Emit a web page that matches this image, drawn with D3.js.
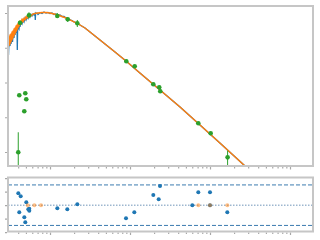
<!DOCTYPE html>
<html>
<head>
<meta charset="utf-8">
<script src="https://cdn.jsdelivr.net/npm/d3@7"></script>
<style>
  body { margin: 0; background: #fff; }
  svg { display: block; }
</style>
</head>
<body>
<script>
// spectrum (blue), wavelength in micron, flux
var specWave = [0.2985, 0.3028, 0.3073, 0.3162, 0.3208, 0.3255, 0.3350, 0.3399, 0.3448, 0.3548,
  0.3600, 0.3652, 0.3758, 0.3813, 0.3868, 0.3902, 0.3936, 0.3981, 0.4097, 0.4157,
  0.4217, 0.4340, 0.4467, 0.4597, 0.4732, 0.4870, 0.5012, 0.5158, 0.5309, 0.5464,
  0.5623, 0.5788, 0.5957, 0.6131, 0.6310, 0.6494, 0.6549, 0.6607, 0.6879, 0.7079,
  0.7499, 0.7943, 0.8414, 0.8913, 0.9441, 1.0, 1.059, 1.122, 1.189, 1.259,
  1.334, 1.413, 1.496, 1.585, 1.679, 1.778, 1.884, 1.995, 2.175, 2.371,
  2.738, 3.162, 3.652, 4.870, 6.494, 8.913, 13.3, 23.7, 42.2, 75.0,
  133, 274, 500, 1000, 2000];
var specFlux = [0.128, 0.0618, 0.167, 0.112, 0.191, 0.128, 0.218, 0.146, 0.249, 0.191,
  0.303, 0.233, 0.324, 0.266, 0.370, 0.0861, 0.324, 0.396, 0.346, 0.483,
  0.396, 0.551, 0.483, 0.629, 0.551, 0.718, 0.629, 0.767, 0.695, 0.847,
  0.767, 0.905, 0.820, 0.936, 0.876, 0.967, 0.629, 0.967, 1.0, 0.905,
  1.034, 0.967, 1.068, 1.0, 1.034, 0.967, 1.0, 0.905, 0.936, 0.847,
  0.876, 0.793, 0.793, 0.718, 0.695, 0.629, 0.608, 0.551, 0.516, 0.452,
  0.370, 0.284, 0.218, 0.128, 0.0755, 0.0416, 0.0188, 0.00608, 0.00197, 5.98e-4,
  1.82e-4, 3.95e-5, 1.3e-5, 3.3e-6, 8.3e-7];

// model (orange)
var modelWave = [0.2985, 0.3028, 0.3073, 0.3117, 0.3162, 0.3208, 0.3255, 0.3302, 0.3350, 0.3399,
  0.3448, 0.3498, 0.3548, 0.3600, 0.3652, 0.3705, 0.3758, 0.3813, 0.3868, 0.3924,
  0.3981, 0.4039, 0.4097, 0.4157, 0.4217, 0.4340, 0.4467, 0.4597, 0.4732, 0.4870,
  0.5012, 0.5158, 0.5309, 0.5464, 0.5623, 0.5788, 0.6131, 0.6494, 0.7079, 0.7943,
  0.8913, 1.0, 1.122, 1.259, 1.413, 1.585, 1.778, 1.995, 2.371, 2.738,
  3.162, 3.652, 4.870, 6.494, 8.913, 13.3, 23.7, 42.2, 75.0, 133,
  274, 500, 1000, 2000];
var modelFlux = [0.218, 0.112, 0.204, 0.120, 0.233, 0.137, 0.249, 0.156, 0.284, 0.179,
  0.303, 0.204, 0.346, 0.233, 0.370, 0.266, 0.423, 0.303, 0.452, 0.346,
  0.499, 0.396, 0.551, 0.437, 0.589, 0.483, 0.672, 0.551, 0.718, 0.629,
  0.793, 0.695, 0.847, 0.767, 0.905, 0.820, 0.936, 0.967, 1.0, 1.034,
  1.034, 1.0, 0.936, 0.876, 0.793, 0.718, 0.629, 0.551, 0.452, 0.370,
  0.284, 0.218, 0.128, 0.0755, 0.0416, 0.0188, 0.00608, 0.00197, 5.98e-4, 1.82e-4,
  3.95e-5, 1.3e-5, 3.3e-6, 8.3e-7];

// photometry (green)
var photWave = [0.422, 0.546, 1.234, 1.665, 2.195, 8.99, 11.45, 19.55, 23.2, 23.9,
  71.4, 102, 166, 0.413, 0.491, 0.505, 0.477, 0.401];
var photFlux = [0.526, 0.859, 0.820, 0.659, 0.506, 0.0407, 0.0292, 0.00887, 0.00728, 0.00559,
  6.7e-4, 3.45e-4, 7.0e-5, 4.28e-3, 4.89e-3, 3.29e-3, 1.48e-3, 9.8e-5];
var photLo = [0.45, 0.70, 0.718, 0.551, 0.396, 0.0407, 0.0292, 0.00887, 0.00728, 0.00559,
  6.7e-4, 3.45e-4, 1e-6, 4.28e-3, 4.89e-3, 3.29e-3, 1.48e-3, 1e-6];
var photHi = [0.60, 1.05, 1.0, 0.767, 0.629, 0.0407, 0.0292, 0.00887, 0.00728, 0.00559,
  6.7e-4, 3.45e-4, 1.09e-4, 4.28e-3, 4.89e-3, 3.29e-3, 1.48e-3, 3.69e-4];

// residuals
var resWave = [0.4016, 0.4303, 0.5055, 0.4130, 0.4775, 0.4909, 0.5355, 0.5510, 0.5510, 1.234,
  1.645, 2.195, 8.913, 11.32, 19.55, 22.84, 23.71, 60.1, 71.4, 100, 100, 164.5];
var resValue = [1.76, 1.32, 0.43, -1.05, -1.79, -2.53, -0.61, -0.52, -0.81, -0.46,
  -0.61, 0.13, -1.94, -1.05, 1.51, 0.87, 2.84, 0, 1.91, 1.91, 0, -1.05];
var limWave = [0.526, 0.637, 0.772, 71.4, 100, 164.5];
var limValue = [0, 0, 0, 0, 0, 0];

var majorX = [1, 10, 100, 1000];
var minorX = [0.4, 0.5, 0.6, 0.7, 0.8, 0.9, 2, 3, 4, 5, 6, 7, 8, 9,
  20, 30, 40, 50, 60, 70, 80, 90, 200, 300, 400, 500, 600, 700, 800, 900];
var majorY = [1, 0.1, 0.01, 0.001, 0.0001];
var resTicks = [-4, -2, 0, 2, 4];
var resBands = [-3, 3];

var width = 320, height = 240;
var left = 8, right = 313;
var top1 = 6, bottom1 = 166, top2 = 177.5, bottom2 = 231.5;

var blue = "#1f77b4", orange = "#ff7f0e", green = "#2ca02c";
var frame = "#c6c6c6", tickColor = "#a8a8a8";

var x = d3.scaleLog().domain([0.2985, 1939]).range([left, right]);
var y = d3.scaleLog().domain([3.95e-5, 1.59]).range([bottom1, top1]);
var yr = d3.scaleLinear().domain([-3.9, 4.1]).range([bottom2, top2]);

var svg = d3.select("body").append("svg")
  .attr("width", width)
  .attr("height", height);

svg.append("clipPath").attr("id", "clip1")
  .append("rect")
  .attr("x", left).attr("y", top1)
  .attr("width", right - left).attr("height", bottom1 - top1);

svg.append("clipPath").attr("id", "clip2")
  .append("rect")
  .attr("x", left).attr("y", top2)
  .attr("width", right - left).attr("height", bottom2 - top2);

var line = d3.line()
  .x(function(d) { return x(d[0]); })
  .y(function(d) { return y(d[1]); });

var main = svg.append("g").attr("clip-path", "url(#clip1)");

main.append("path")
  .datum(d3.zip(specWave, specFlux))
  .attr("d", line)
  .attr("fill", "none")
  .attr("stroke", blue)
  .attr("stroke-width", 1.3);

main.append("path")
  .datum(d3.zip(modelWave, modelFlux))
  .attr("d", line)
  .attr("fill", "none")
  .attr("stroke", orange)
  .attr("stroke-width", 1.4)
  .attr("stroke-linejoin", "round");

var phot = d3.range(photWave.length);

main.selectAll(".err")
  .data(phot)
  .enter().append("line")
  .attr("class", "err")
  .attr("x1", function(i) { return x(photWave[i]); })
  .attr("x2", function(i) { return x(photWave[i]); })
  .attr("y1", function(i) { return y(photLo[i]); })
  .attr("y2", function(i) { return y(photHi[i]); })
  .attr("stroke", green)
  .attr("stroke-width", 1);

main.selectAll(".pt")
  .data(phot)
  .enter().append("circle")
  .attr("class", "pt")
  .attr("cx", function(i) { return x(photWave[i]); })
  .attr("cy", function(i) { return y(photFlux[i]); })
  .attr("r", 2.3)
  .attr("fill", green);

// residual panel
var low = svg.append("g").attr("clip-path", "url(#clip2)");

low.selectAll(".band")
  .data(resBands)
  .enter().append("line")
  .attr("x1", left).attr("x2", right)
  .attr("y1", function(d) { return yr(d); })
  .attr("y2", function(d) { return yr(d); })
  .attr("stroke", "#3b7bb0")
  .attr("stroke-width", 1)
  .attr("stroke-dasharray", "4,2");

low.append("line")
  .attr("x1", left).attr("x2", right)
  .attr("y1", yr(0)).attr("y2", yr(0))
  .attr("stroke", "#6f95b8")
  .attr("stroke-width", 1)
  .attr("stroke-dasharray", "1.5,1.5");

low.selectAll(".res")
  .data(d3.range(resWave.length))
  .enter().append("circle")
  .attr("cx", function(i) { return x(resWave[i]); })
  .attr("cy", function(i) { return yr(resValue[i]); })
  .attr("r", 2)
  .attr("fill", blue);

low.selectAll(".lim")
  .data(d3.range(limWave.length))
  .enter().append("circle")
  .attr("cx", function(i) { return x(limWave[i]); })
  .attr("cy", function(i) { return yr(limValue[i]); })
  .attr("r", 2)
  .attr("fill", orange)
  .attr("fill-opacity", 0.5);

// ticks, no labels
function ticks(g, axis) {
  g.call(axis);
  g.select(".domain").remove();
  g.selectAll("line").attr("stroke", tickColor).attr("stroke-width", 1.2);
  g.selectAll("text").remove();
}

[bottom1, bottom2].forEach(function(b) {
  svg.append("g").attr("transform", "translate(0," + (b + 1) + ")")
    .call(ticks, d3.axisBottom(x).tickValues(majorX).tickSize(2.5).tickFormat(""));
  svg.append("g").attr("transform", "translate(0," + (b + 1) + ")")
    .call(ticks, d3.axisBottom(x).tickValues(minorX).tickSize(1.5).tickFormat(""));
});

svg.append("g").attr("transform", "translate(" + (left - 1) + ",0)")
  .call(ticks, d3.axisLeft(y).tickValues(majorY).tickSize(2).tickFormat(""));

svg.append("g").attr("transform", "translate(" + (left - 1) + ",0)")
  .call(ticks, d3.axisLeft(yr).tickValues(resTicks).tickSize(2).tickFormat(""));

// frames
[[top1, bottom1], [top2, bottom2]].forEach(function(p) {
  svg.append("rect")
    .attr("x", left).attr("y", p[0])
    .attr("width", right - left).attr("height", p[1] - p[0])
    .attr("fill", "none")
    .attr("stroke", frame)
    .attr("stroke-width", 2);
});
</script>
</body>
</html>
